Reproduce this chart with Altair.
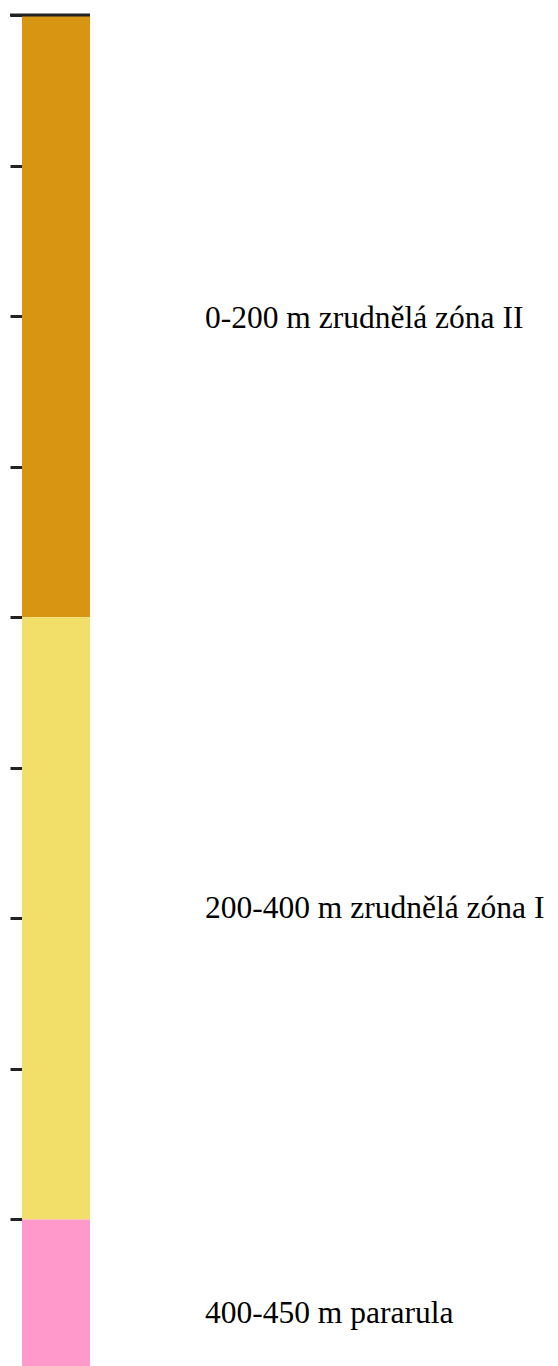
import altair as alt
import pandas as pd

tops = [0, 200, 400]
bottoms = [200, 400, 450]
labels = ["0-200 m zrudnělá zóna II", "200-400 m zrudnělá zóna I", "400-450 m pararula"]
label_depths = [104, 300, 434.5]
colors = ["#D89511", "#F2DF6A", "#FF99CC"]
tick_values = [0, 50, 100, 150, 200, 250, 300, 350, 400, 450]

df = pd.DataFrame({
    "top": tops,
    "bottom": bottoms,
    "pos": label_depths,
    "label": labels,
    "color": colors,
})

H = 1355
W = 528
yscale = alt.Scale(domain=[0, 450], reverse=True, nice=False, zero=False)

bars = alt.Chart(df).mark_bar(stroke=None).encode(
    y=alt.Y("top:Q", scale=yscale,
            axis=alt.Axis(values=tick_values, labels=False, domain=False, grid=False,
                          ticks=True, tickSize=12, tickWidth=3, tickColor="#222222",
                          title=None)),
    y2="bottom:Q",
    x=alt.value(0),
    x2=alt.value(68),
    color=alt.Color("color:N", scale=None),
)

text = alt.Chart(df).mark_text(align="left", baseline="alphabetic",
                               font="Times New Roman, Liberation Serif, serif",
                               fontSize=31.5, color="#000000").encode(
    y=alt.Y("pos:Q", scale=yscale),
    x=alt.value(183),
    text="label:N",
)

top_rule = alt.Chart(pd.DataFrame({"v": [0]})).mark_rule(color="#222222", strokeWidth=3).encode(
    y=alt.Y("v:Q", scale=yscale),
    x=alt.value(-12),
    x2=alt.value(68),
)

chart = alt.layer(bars, text, top_rule).properties(
    width=W, height=H,
    autosize=alt.AutoSizeParams(type="none"),
    padding={"left": 14, "top": 7, "right": 0, "bottom": 0},
).configure_view(stroke=None)

chart.save("out.html", embed_options={"renderer": "svg", "actions": False})
